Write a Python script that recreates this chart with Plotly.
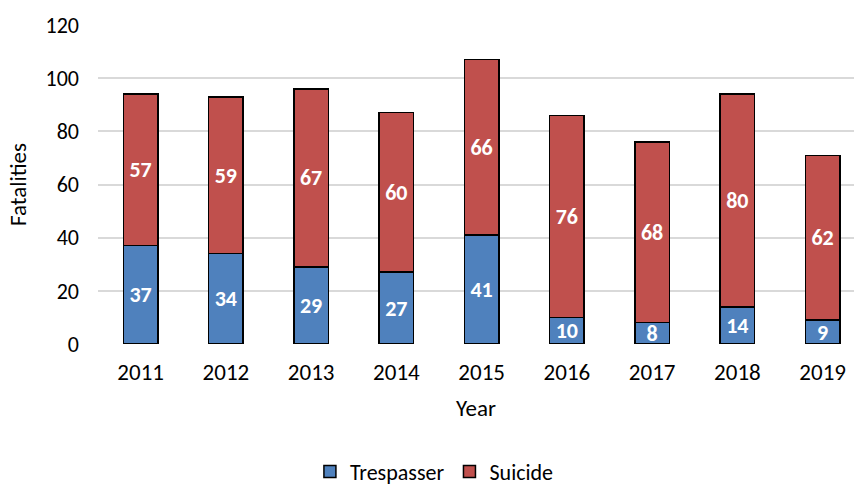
import plotly.graph_objects as go

years = ["2011", "2012", "2013", "2014", "2015", "2016", "2017", "2018", "2019"]
trespasser = [37, 34, 29, 27, 41, 10, 8, 14, 9]
suicide = [57, 59, 67, 60, 66, 76, 68, 80, 62]

FONT = "Carlito, Lato, sans-serif"

fig = go.Figure()
fig.add_bar(x=years, y=trespasser, name="Trespasser",
            marker=dict(color="#4F81BD", line=dict(color="black", width=1.5)),
            text=[str(v) for v in trespasser], textposition="inside",
            insidetextanchor="middle", textangle=0,
            textfont=dict(color="white", size=22, family=FONT, weight="bold"))
fig.add_bar(x=years, y=suicide, name="Suicide",
            marker=dict(color="#C0504D", line=dict(color="black", width=1.5)),
            text=[str(v) for v in suicide], textposition="inside",
            insidetextanchor="middle", textangle=0,
            textfont=dict(color="white", size=22, family=FONT, weight="bold"))

fig.update_layout(
    barmode="stack",
    bargap=0.595,
    width=854, height=489,
    margin=dict(l=98, r=0, t=25, b=144.5, autoexpand=False),
    paper_bgcolor="white", plot_bgcolor="white",
    font=dict(family=FONT, size=22, color="black"),
    uniformtext=dict(minsize=22, mode="show"),
    showlegend=True,
    legend=dict(orientation="h", x=0.445, xanchor="center", y=-0.40, yanchor="middle",
                font=dict(size=22), itemwidth=30, traceorder="normal"),
    xaxis=dict(range=[-0.5, 8.368], showgrid=False, ticks="", showline=False,
               ticklabelstandoff=12,
               title=dict(text="Year", font=dict(size=23), standoff=14),
               tickfont=dict(size=23)),
    yaxis=dict(range=[0, 120], dtick=20, showgrid=True, gridcolor="#D9D9D9", gridwidth=1.5,
               zeroline=False, showline=False, ticks="", ticklabelstandoff=18,
               title=dict(text="Fatalities", font=dict(size=23), standoff=12),
               tickfont=dict(size=22)),
)

fig.write_html("out.html", config={"displayModeBar": False},
               post_script="document.body.style.margin='0';")
